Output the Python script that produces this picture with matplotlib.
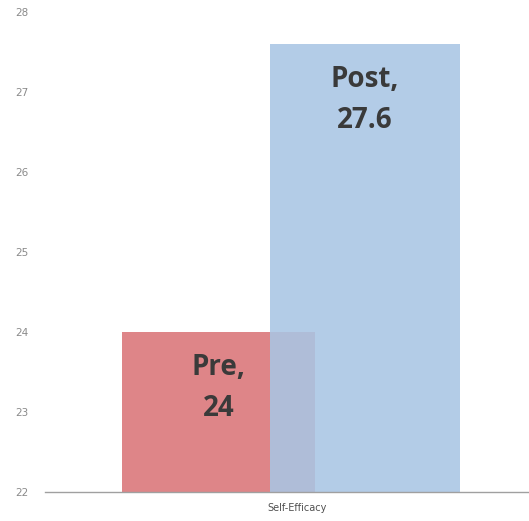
import matplotlib
matplotlib.use("Agg")
import matplotlib.pyplot as plt

categories = ["Self-Efficacy"]
series_names = ["Pre", "Post"]
series_values = [24, 27.6]
y_ticks = [22, 23, 24, 25, 26, 27, 28]

colors = ["#de8588", "#a9c5e4"]
alphas = [1.0, 0.88]
offsets = [-0.1415, 0.161]
widths = [0.399, 0.393]

fig = plt.figure(figsize=(5.29, 5.21), dpi=100)
ax = fig.add_axes([45/529, 1-492/521, 484/529, 480/521])

for name, val, c, a, off, w in zip(series_names, series_values, colors, alphas, offsets, widths):
    ax.bar(0 + off, val - 22, width=w, bottom=22, color=c, alpha=a, zorder=2)
    ax.annotate(f"{name},\n{val:g}", xy=(0 + off, val), xytext=(0, -40),
                textcoords="offset points", ha="center", va="center",
                fontsize=20, fontweight="bold", color="#3a3a3a",
                family="Open Sans", linespacing=1.55, zorder=3)

ax.set_xlim(-0.5, 0.5)
ax.set_ylim(22, 28)
ax.set_yticks(y_ticks)
ax.set_yticklabels([str(t) for t in y_ticks], color="#8a8a8a", fontsize=7.5)
ax.set_xticks([0.02])
ax.set_xticklabels(categories, color="#505050", fontsize=7)
ax.tick_params(axis="both", length=0)
ax.tick_params(axis="y", pad=12)
ax.tick_params(axis="x", pad=8)
for s in ["top", "right", "left"]:
    ax.spines[s].set_visible(False)
ax.spines["bottom"].set_color("#a0a0a0")
ax.spines["bottom"].set_linewidth(1.0)

fig.savefig("out.png", dpi=100)
